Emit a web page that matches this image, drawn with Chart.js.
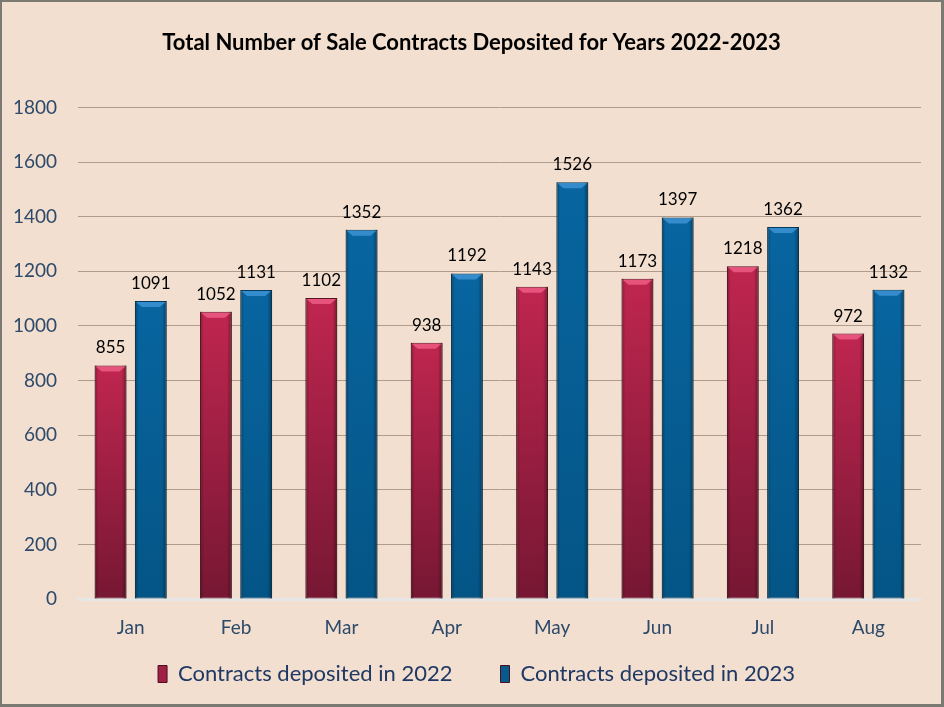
<!DOCTYPE html>
<html>
<head>
<meta charset="utf-8">
<title>Sale Contracts Deposited 2022-2023</title>
<script src="https://cdn.jsdelivr.net/npm/chart.js@4.4.1/dist/chart.umd.min.js"></script>
<style>
  html, body { margin: 0; padding: 0; background: #f2dfcf; }
  #wrap {
    width: 944px; height: 707px; box-sizing: border-box;
    border: 2px solid #7a7a72; border-right-width: 3px; border-bottom-width: 3px;
    background: #f2dfcf;
  }
  canvas { display: block; }
</style>
</head>
<body>
<div id="wrap"><canvas id="chartBar"></canvas></div>
<script>
const months = ["Jan", "Feb", "Mar", "Apr", "May", "Jun", "Jul", "Aug"];
const contracts2022 = [855, 1052, 1102, 938, 1143, 1173, 1218, 972];
const contracts2023 = [1091, 1131, 1352, 1192, 1526, 1397, 1362, 1132];
const yTicks = [0, 200, 400, 600, 800, 1000, 1200, 1400, 1600, 1800];

const FONT = "Lato, 'Open Sans', sans-serif";

// per-bar vertical gradient, light at the top of the bar, dark at the base
function barFill(top, bottom) {
  return function (ctx) {
    const chart = ctx.chart;
    const y = chart.scales.y;
    if (!y || ctx.parsed === undefined) return top;
    const y0 = y.getPixelForValue(ctx.parsed.y);
    const y1 = y.getPixelForValue(0);
    if (!isFinite(y0) || !isFinite(y1) || y1 - y0 < 1) return top;
    const g = chart.ctx.createLinearGradient(0, y0, 0, y1);
    g.addColorStop(0, top);
    g.addColorStop(1, bottom);
    return g;
  };
}

// darker sides and a light bevel on the top of each bar
const barShade = {
  id: "barShade",
  afterDatasetsDraw(chart) {
    const ctx = chart.ctx;
    const bevel = ["rgba(240,95,135,0.8)", "rgba(65,150,215,0.8)"];
    ctx.save();
    chart.data.datasets.forEach((ds, i) => {
      chart.getDatasetMeta(i).data.forEach((bar) => {
        const w = bar.width, l = bar.x - w / 2, r = bar.x + w / 2;
        const t = bar.y, b = bar.base;
        const g = ctx.createLinearGradient(l, 0, r, 0);
        g.addColorStop(0, "rgba(0,0,0,0.3)");
        g.addColorStop(0.12, "rgba(0,0,0,0)");
        g.addColorStop(0.85, "rgba(0,0,0,0)");
        g.addColorStop(1, "rgba(0,0,0,0.38)");
        ctx.fillStyle = g;
        ctx.fillRect(l, t, w, b - t);
        ctx.fillStyle = bevel[i];
        ctx.beginPath();
        ctx.moveTo(l + 1, t + 1);
        ctx.lineTo(r - 1, t + 1);
        ctx.lineTo(r - 7, t + 6);
        ctx.lineTo(l + 7, t + 6);
        ctx.closePath();
        ctx.fill();
      });
    });
    ctx.restore();
  }
};

const valueLabels = {
  id: "valueLabels",
  afterDatasetsDraw(chart) {
    const ctx = chart.ctx;
    ctx.save();
    ctx.font = "17px " + FONT;
    ctx.fillStyle = "#000000";
    ctx.textAlign = "center";
    ctx.textBaseline = "alphabetic";
    chart.data.datasets.forEach((ds, i) => {
      chart.getDatasetMeta(i).data.forEach((bar, j) => {
        ctx.fillText(ds.data[j], bar.x, bar.y - 12);
      });
    });
    ctx.restore();
  }
};

// legend needs a wide gap between items; keep its box short and lift the drawing
const legendFit = {
  id: "legendFit",
  beforeInit(chart) {
    const legend = chart.legend;
    const fit = legend.fit;
    const draw = legend.draw;
    legend.fit = function () {
      fit.call(this);
      this.height = 45;
    };
    legend.draw = function () {
      const top = this.top, bottom = this.bottom, left = this.left, right = this.right;
      this.top = top - 34;
      this.bottom = this.chart.height;
      this.left = left + 5;
      this.right = right + 5;
      draw.call(this);
      this.top = top;
      this.bottom = bottom;
      this.left = left;
      this.right = right;
    };
  }
};

const legendColors = ["#a01f45", "#065a8e"];

const dataBar = {
  labels: months,
  datasets: [
    {
      label: "Contracts deposited in 2022",
      data: contracts2022,
      backgroundColor: barFill("#c0264f", "#761733"),
      borderColor: "#5e1228",
      borderWidth: 1,
      borderSkipped: false
    },
    {
      label: "Contracts deposited in 2023",
      data: contracts2023,
      backgroundColor: barFill("#0865a0", "#045586"),
      borderColor: "#033c60",
      borderWidth: 1,
      borderSkipped: false
    }
  ]
};

const configBar = {
  type: "bar",
  data: dataBar,
  options: {
    responsive: true,
    maintainAspectRatio: false,
    animation: false,
    categoryPercentage: 0.764,
    barPercentage: 0.79,
    layout: { padding: { left: 0, right: 0, top: 0, bottom: 10 } },
    scales: {
      x: {
        grid: { display: false, drawTicks: false },
        border: { display: true, color: "#e6e6e6", width: 3 },
        ticks: { color: "#2e4a6b", font: { family: FONT, size: 19 }, padding: 17 },
        afterFit(scale) { scale.height = 50; }
      },
      y: {
        min: 0,
        max: 1800,
        afterBuildTicks(scale) { scale.ticks = yTicks.map((v) => ({ value: v })); },
        grid: { color: "#b09c8c", lineWidth: 1, drawTicks: false },
        border: { display: false },
        ticks: {
          color: "#2e4a6b",
          font: { family: FONT, size: 19 },
          padding: 21,
          callback: (v) => String(v)
        },
        afterFit(scale) { scale.width = 76; }
      },
      // empty right margin so title and legend centre on the whole canvas
      yRight: {
        position: "right",
        grid: { display: false, drawTicks: false },
        border: { display: false },
        ticks: { display: false },
        afterFit(scale) { scale.width = 20; }
      }
    },
    plugins: {
      title: {
        display: true,
        text: "Total Number of Sale Contracts Deposited for Years 2022-2023",
        color: "#000000",
        font: { family: FONT, size: 22, weight: "bold" },
        padding: { top: 28, bottom: 51 }
      },
      legend: {
        position: "bottom",
        labels: {
          color: "#1f3864",
          font: { family: FONT, size: 22 },
          boxWidth: 9,
          boxHeight: 17,
          padding: 48,
          generateLabels(chart) {
            const items = Chart.defaults.plugins.legend.labels.generateLabels(chart);
            items.forEach((it, i) => {
              it.fillStyle = legendColors[i];
              it.strokeStyle = "#4a0f20";
              it.lineWidth = 1;
            });
            return items;
          }
        }
      },
      tooltip: { enabled: false }
    }
  },
  plugins: [legendFit, barShade, valueLabels]
};

const chartBar = new Chart(document.getElementById("chartBar"), configBar);
</script>
</body>
</html>
